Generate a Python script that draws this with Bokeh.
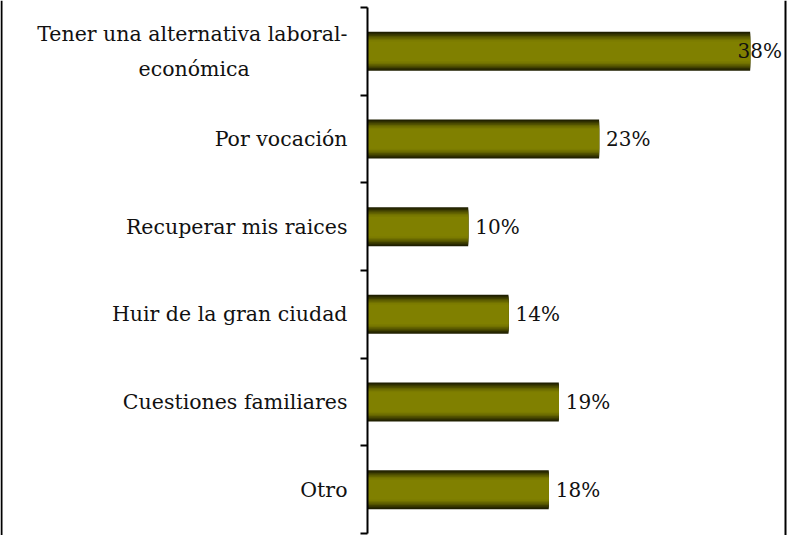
from bokeh.plotting import figure
from bokeh.models import Range1d, FixedTicker, Span, ColumnDataSource
from bokeh.embed import file_html
from bokeh.resources import INLINE
from bokeh.core.properties import value
import numpy as np

# ---- data ----
categories = [
    "Tener una alternativa laboral-\neconómica",
    "Por vocación",
    "Recuperar mis raices",
    "Huir de la gran ciudad",
    "Cuestiones familiares",
    "Otro",
]
values = [38, 23, 10, 14, 19, 18]
value_labels = ["38%", "23%", "10%", "14%", "19%", "18%"]

# ---- layout constants ----
W, H = 792, 535
AXIS_X = 367        # screen position of the category axis
PPU = 10.07         # pixels per percent
TOP_PAD = 7         # pixels above the first category boundary
BOTTOM_PAD = 2      # pixels below the last category boundary
FONT = "DejaVu Serif"

n = len(categories)
pos = [n - 1 - i for i in range(n)]
band = (H - TOP_PAD - BOTTOM_PAD) / n

x_start = -AXIS_X / PPU
x_end = (W - AXIS_X) / PPU

p = figure(width=W, height=H,
           x_range=Range1d(x_start, x_end),
           y_range=Range1d(-0.5 - BOTTOM_PAD / band, n - 0.5 + TOP_PAD / band),
           output_backend="svg", toolbar_location=None,
           min_border_left=0, min_border_right=0, min_border_top=0, min_border_bottom=0)
p.xaxis.visible = False
p.xgrid.visible = False
p.ygrid.visible = False
p.outline_line_color = None
p.background_fill_color = "white"
p.border_fill_color = "white"

# axis with category labels and boundary ticks, drawn at x = 0
ax = p.yaxis[0]
ax.fixed_location = 0
ax.bounds = (-0.5, n - 0.5)
ax.ticker = FixedTicker(ticks=pos, minor_ticks=[k - 0.5 for k in range(n + 1)])
pad = "\u00a0" * 15
overrides = {}
for i, lab in enumerate(categories):
    if "\n" in lab:
        first, second = lab.split("\n")
        lab = first + "\n" + second + pad
    overrides[pos[i]] = lab
ax.major_label_overrides = overrides
ax.axis_line_color = "black"
ax.axis_line_width = 2
ax.major_tick_line_color = None
ax.major_tick_out = 0
ax.major_tick_in = 0
ax.minor_tick_line_color = "black"
ax.minor_tick_line_width = 2
ax.minor_tick_out = 7
ax.minor_tick_in = 0
ax.major_label_standoff = 13
ax.major_label_text_font = FONT
ax.major_label_text_font_size = "20.5px"
ax.major_label_text_line_height = 1.45
ax.major_label_text_color = "#111111"

# bars with a banded vertical gradient
src = ColumnDataSource(dict(y=pos, v=values, lab=value_labels,
                            lx=np.minimum(np.array(values, dtype=float), 36.05)))
fracs = [1.0, 0.93, 0.86, 0.79, 0.72, 0.65, 0.58, 0.50]
shades = ["#1f1f00", "#2e2e00", "#404000", "#525200", "#636300", "#717100",
          "#7b7b00", "#808000"]
bar_h = 0.445
for f, c in zip(fracs, shades):
    p.hbar(y="y", left=0, right="v", height=bar_h * f, source=src,
           fill_color=c, line_color=None)

p.text(x="lx", y="y", text="lab", source=src, x_offset=7,
       text_align="left", text_baseline="middle",
       text_font=value(FONT), text_font_size="20px", text_color="#111111")

# chart-area borders (left and right edges)
p.add_layout(Span(location=x_start + 1 / PPU, dimension="height",
                  line_color="black", line_width=2))
p.add_layout(Span(location=(785 - AXIS_X) / PPU, dimension="height",
                  line_color="black", line_width=2))

open("out.html", "w").write(file_html(p, INLINE))
